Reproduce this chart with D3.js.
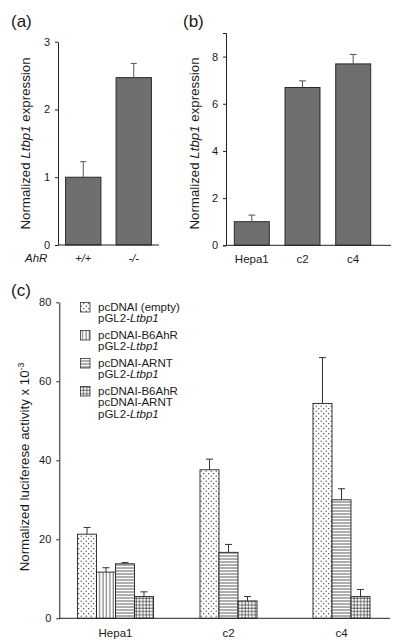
<!DOCTYPE html>
<html><head><meta charset="utf-8">
<script src="https://cdn.jsdelivr.net/npm/d3@7"></script>
<style>
html,body{margin:0;padding:0;background:#fff;}
text{font-family:"Liberation Sans",Arial,Helvetica,sans-serif;fill:#1a1a1a;}
</style></head>
<body>
<svg id="chart" width="400" height="643"></svg>
<script>
// ---- Data ----
const aCategories = ["+/+", "-/-"];
const aValues = [1.0, 2.47];
const aErrors = [0.23, 0.21];
const aTicks = [0, 1, 2, 3];

const bCategories = ["Hepa1", "c2", "c4"];
const bValues = [1.0, 6.69, 7.69];
const bErrors = [0.28, 0.28, 0.40];
const bTicks = [0, 2, 4, 6, 8];

const cCategories = ["Hepa1", "c2", "c4"];
const cSeries = ["empty", "B6AhR", "ARNT", "both"];
const cEmpty = [21.3, 37.6, 54.4];
const cEmptyErr = [1.7, 2.7, 11.6];
const cAhR = [11.7, null, null];
const cAhRErr = [1.1, null, null];
const cARNT = [13.8, 16.7, 30.0];
const cARNTErr = [0.3, 2.0, 2.8];
const cBoth = [5.5, 4.4, 5.5];
const cBothErr = [1.2, 1.1, 1.8];
const cTicks = [0, 20, 40, 60, 80];
const cLegend = [
  [["pcDNAI (empty)"], ["pGL2-", "Ltbp1"]],
  [["pcDNAI-B6AhR"], ["pGL2-", "Ltbp1"]],
  [["pcDNAI-ARNT"], ["pGL2-", "Ltbp1"]],
  [["pcDNAI-B6AhR"], ["pcDNAI-ARNT"], ["pGL2-", "Ltbp1"]]
];

// ---- Drawing ----
const svg = d3.select("#chart");
svg.append("rect").attr("width", 400).attr("height", 643).attr("fill", "#fff");

// patterns
const defs = svg.append("defs");
const pDot = defs.append("pattern").attr("id", "pat-empty").attr("patternUnits", "userSpaceOnUse")
  .attr("width", 5).attr("height", 5);
pDot.append("rect").attr("width", 5).attr("height", 5).attr("fill", "#fff");
pDot.append("circle").attr("cx", 1.2).attr("cy", 1.2).attr("r", 0.6).attr("fill", "#222");
pDot.append("circle").attr("cx", 3.7).attr("cy", 3.7).attr("r", 0.6).attr("fill", "#222");

const pV = defs.append("pattern").attr("id", "pat-B6AhR").attr("patternUnits", "userSpaceOnUse")
  .attr("width", 3.4).attr("height", 4);
pV.append("rect").attr("width", 3.4).attr("height", 4).attr("fill", "#fff");
pV.append("line").attr("x1", 1).attr("x2", 1).attr("y1", 0).attr("y2", 4).attr("stroke", "#333").attr("stroke-width", 0.8);

const pH = defs.append("pattern").attr("id", "pat-ARNT").attr("patternUnits", "userSpaceOnUse")
  .attr("width", 4).attr("height", 3);
pH.append("rect").attr("width", 4).attr("height", 3).attr("fill", "#fff");
pH.append("line").attr("y1", 1).attr("y2", 1).attr("x1", 0).attr("x2", 4).attr("stroke", "#333").attr("stroke-width", 0.8);

const pX = defs.append("pattern").attr("id", "pat-both").attr("patternUnits", "userSpaceOnUse")
  .attr("width", 3.3).attr("height", 3.3);
pX.append("rect").attr("width", 3.3).attr("height", 3.3).attr("fill", "#fff");
pX.append("line").attr("y1", 1).attr("y2", 1).attr("x1", 0).attr("x2", 3.3).attr("stroke", "#333").attr("stroke-width", 0.7);
pX.append("line").attr("x1", 1).attr("x2", 1).attr("y1", 0).attr("y2", 3.3).attr("stroke", "#333").attr("stroke-width", 0.7);

function yAxis(g, scale, ticks, outer) {
  g.call(d3.axisLeft(scale).tickValues(ticks).tickFormat(d3.format("d")).tickSize(3).tickPadding(5).tickSizeOuter(outer))
    .call(s => s.selectAll("path,line").attr("stroke", "#222"))
    .call(s => s.selectAll("text").attr("font-size", 11).attr("fill", "#1a1a1a")
      .style("font-family", '"Liberation Sans",Arial,sans-serif'));
}

function panelLabel(x, y, t) {
  svg.append("text").attr("x", x).attr("y", y).attr("font-size", 17).text(t);
}

function yTitle(cx, cy, parts, size) {
  const t = svg.append("text").attr("transform", `translate(${cx},${cy}) rotate(-90)`)
    .attr("text-anchor", "middle").attr("font-size", size);
  parts.forEach(p => {
    const ts = t.append("tspan").text(p.t);
    if (p.i) ts.attr("font-style", "italic");
    if (p.sup) ts.attr("baseline-shift", "super").attr("font-size", size * 0.65);
  });
}

// ---------- Panel (a) ----------
const ya = d3.scaleLinear().domain([0, 3]).range([245, 41.7]);
const xa = d3.scaleBand().domain(aCategories).range([58, 159]).paddingInner(0.3).paddingOuter(0.15);
panelLabel(11, 27, "(a)");
yTitle(30, 143.5, [{t: "Normalized "}, {t: "Ltbp1", i: true}, {t: " expression"}], 13.3);
const ga = svg.append("g");
ga.selectAll("rect.bar").data(aValues).join("rect").attr("class", "bar")
  .attr("x", (d, i) => xa(aCategories[i])).attr("width", xa.bandwidth())
  .attr("y", d => ya(d)).attr("height", d => ya(0) - ya(d))
  .attr("fill", "#6f6f6f").attr("stroke", "#2a2a2a").attr("stroke-width", 1);
ga.selectAll("line.err").data(aValues).join("line").attr("class", "err")
  .attr("x1", (d, i) => xa(aCategories[i]) + xa.bandwidth() / 2)
  .attr("x2", (d, i) => xa(aCategories[i]) + xa.bandwidth() / 2)
  .attr("y1", d => ya(d)).attr("y2", (d, i) => ya(d + aErrors[i])).attr("stroke", "#555");
ga.selectAll("line.cap").data(aValues).join("line").attr("class", "cap")
  .attr("x1", (d, i) => xa(aCategories[i]) + xa.bandwidth() / 2 - 3)
  .attr("x2", (d, i) => xa(aCategories[i]) + xa.bandwidth() / 2 + 3)
  .attr("y1", (d, i) => ya(d + aErrors[i])).attr("y2", (d, i) => ya(d + aErrors[i])).attr("stroke", "#555");
svg.append("g").attr("transform", "translate(58,0)").call(g => yAxis(g, ya, aTicks, 0));
svg.append("line").attr("x1", 58).attr("x2", 159).attr("y1", ya(0)).attr("y2", ya(0)).attr("stroke", "#222");
ga.selectAll("text.cat").data(aCategories).join("text").attr("class", "cat")
  .attr("x", d => xa(d) + xa.bandwidth() / 2).attr("y", 262).attr("text-anchor", "middle")
  .attr("font-size", 11).attr("font-style", "italic").text(d => d);
svg.append("text").attr("x", 25).attr("y", 262).attr("font-size", 11.5).attr("font-style", "italic").text("AhR");

// ---------- Panel (b) ----------
const yb = d3.scaleLinear().domain([0, 9]).range([245.3, 33]);
const xb = d3.scaleBand().domain(bCategories).range([226.2, 378.8]).paddingInner(0.31).paddingOuter(0.16);
panelLabel(183, 27, "(b)");
yTitle(199, 143.5, [{t: "Normalized "}, {t: "Ltbp1", i: true}, {t: " expression"}], 13.3);
const gb = svg.append("g");
gb.selectAll("rect.bar").data(bValues).join("rect").attr("class", "bar")
  .attr("x", (d, i) => xb(bCategories[i])).attr("width", xb.bandwidth())
  .attr("y", d => yb(d)).attr("height", d => yb(0) - yb(d))
  .attr("fill", "#6f6f6f").attr("stroke", "#2a2a2a").attr("stroke-width", 1);
gb.selectAll("line.err").data(bValues).join("line").attr("class", "err")
  .attr("x1", (d, i) => xb(bCategories[i]) + xb.bandwidth() / 2)
  .attr("x2", (d, i) => xb(bCategories[i]) + xb.bandwidth() / 2)
  .attr("y1", d => yb(d)).attr("y2", (d, i) => yb(d + bErrors[i])).attr("stroke", "#555");
gb.selectAll("line.cap").data(bValues).join("line").attr("class", "cap")
  .attr("x1", (d, i) => xb(bCategories[i]) + xb.bandwidth() / 2 - 3.5)
  .attr("x2", (d, i) => xb(bCategories[i]) + xb.bandwidth() / 2 + 3.5)
  .attr("y1", (d, i) => yb(d + bErrors[i])).attr("y2", (d, i) => yb(d + bErrors[i])).attr("stroke", "#555");
svg.append("g").attr("transform", "translate(226,0)").call(g => yAxis(g, yb, bTicks, 3));
svg.append("line").attr("x1", 226).attr("x2", 391).attr("y1", yb(0)).attr("y2", yb(0)).attr("stroke", "#222");
gb.selectAll("text.cat").data(bCategories).join("text").attr("class", "cat")
  .attr("x", d => xb(d) + xb.bandwidth() / 2).attr("y", 263).attr("text-anchor", "middle")
  .attr("font-size", 11.5).text(d => d);

// ---------- Panel (c) ----------
const yc = d3.scaleLinear().domain([0, 80]).range([618.3, 302.3]);
const xc = d3.scaleBand().domain(cCategories).range([59, 398]).padding(0);
const barW = 19;
panelLabel(11, 296, "(c)");
yTitle(28.5, 467, [{t: "Normalized luciferese activity x 10"}, {t: "-3", sup: true}], 13.3);

const cVals = {empty: cEmpty, B6AhR: cAhR, ARNT: cARNT, both: cBoth};
const cErrs = {empty: cEmptyErr, B6AhR: cAhRErr, ARNT: cARNTErr, both: cBothErr};
const cBars = [];
cCategories.forEach((cat, ci) => {
  const present = cSeries.filter(s => cVals[s][ci] != null);
  const start = xc(cat) + xc.bandwidth() / 2 - present.length * barW / 2;
  present.forEach((s, k) => cBars.push({cat, s, v: cVals[s][ci], e: cErrs[s][ci], x: start + k * barW}));
});
const gc = svg.append("g");
gc.selectAll("line.err").data(cBars).join("line").attr("class", "err")
  .attr("x1", d => d.x + barW / 2).attr("x2", d => d.x + barW / 2)
  .attr("y1", d => yc(d.v)).attr("y2", d => yc(d.v + d.e)).attr("stroke", "#333");
gc.selectAll("line.cap").data(cBars).join("line").attr("class", "cap")
  .attr("x1", d => d.x + barW / 2 - 3.5).attr("x2", d => d.x + barW / 2 + 3.5)
  .attr("y1", d => yc(d.v + d.e)).attr("y2", d => yc(d.v + d.e)).attr("stroke", "#333");
gc.selectAll("rect.bar").data(cBars).join("rect").attr("class", "bar")
  .attr("x", d => d.x).attr("width", barW)
  .attr("y", d => yc(d.v)).attr("height", d => yc(0) - yc(d.v))
  .attr("fill", d => `url(#pat-${d.s})`).attr("stroke", "#222").attr("stroke-width", 0.9);
svg.append("g").attr("transform", "translate(59.3,0)").call(g => yAxis(g, yc, cTicks, 0));
svg.append("line").attr("x1", 59).attr("x2", 390).attr("y1", yc(0)).attr("y2", yc(0)).attr("stroke", "#222");
gc.selectAll("text.cat").data(cCategories).join("text").attr("class", "cat")
  .attr("x", d => xc(d) + xc.bandwidth() / 2).attr("y", 637).attr("text-anchor", "middle")
  .attr("font-size", 11.5).text(d => d);

// legend
const legStarts = [311, 339, 367, 395];
const lg = svg.append("g");
cLegend.forEach((lines, i) => {
  const y0 = legStarts[i];
  lg.append("rect").attr("x", 80.5).attr("y", y0 - 8.5).attr("width", 9.5).attr("height", 9.5)
    .attr("fill", `url(#pat-${cSeries[i]})`).attr("stroke", "#333").attr("stroke-width", 0.8);
  lines.forEach((parts, j) => {
    const t = lg.append("text").attr("x", 98).attr("y", y0 + j * 11.3).attr("font-size", 11.5);
    parts.forEach((p, k) => {
      const ts = t.append("tspan").text(p);
      if (k === 1) ts.attr("font-style", "italic");
    });
  });
});
</script>
</body></html>
